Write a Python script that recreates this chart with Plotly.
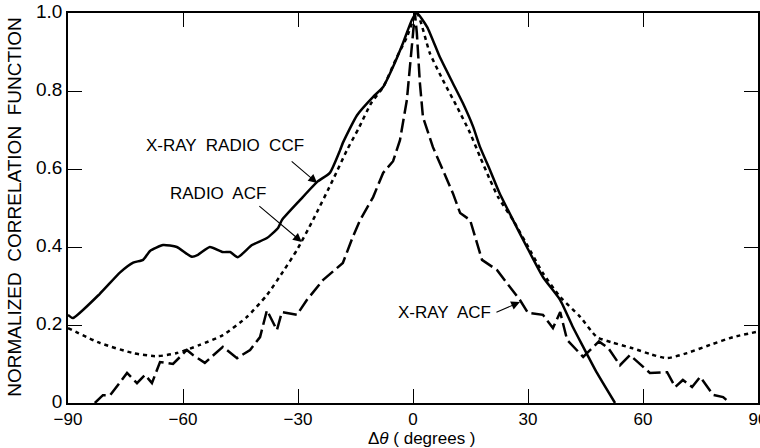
import plotly.graph_objects as go

# X-ray / radio cross-correlation function (solid)
ccf_x = [-90, -88.7, -81.7, -76.4, -73, -70.4, -68.6, -65.2, -61.6, -57.7, -56.1, -53, -49.6,
         -47.7, -45.7, -42, -38.1, -35.2, -34.2, -29.5, -25, -21.7, -19, -18.3, -14.6, -10.4,
         -7.8, -5.2, -2.6, -0.3, 1.0, 3.7, 7, 10.4, 13, 15.7, 17.5, 20.1, 22.5, 26.1, 29.7,
         33.9, 38.4, 41.7, 44.4, 48, 52.7]
ccf_y = [0.226, 0.218, 0.28, 0.335, 0.36, 0.367, 0.39, 0.405, 0.40, 0.375, 0.38, 0.40, 0.387,
         0.387, 0.374, 0.405, 0.423, 0.449, 0.469, 0.52, 0.567, 0.59, 0.649, 0.667, 0.738, 0.785,
         0.81, 0.862, 0.923, 0.982, 1.0, 0.964, 0.887, 0.82, 0.769, 0.708, 0.656, 0.597, 0.54,
         0.469, 0.40, 0.323, 0.264, 0.195, 0.144, 0.077, 0.0]

# Radio auto-correlation function (dotted)
racf_x = [-90, -81.7, -73, -66.8, -61.6, -55.6, -49.6, -43.3, -38.1, -33.9, -30.3, -26.1,
          -20.9, -17.2, -14.2, -10.9, -7.8, -4.2, -1.6, 1.0, 4.4, 7.8, 11.5, 14.9, 17.5, 20.1,
          22.2, 26.1, 30.5, 33.9, 38.4, 43.6, 48, 52, 57.4, 62, 66.3, 71.5, 77.5, 83.5, 90]
racf_y = [0.192, 0.154, 0.128, 0.12, 0.128, 0.149, 0.174, 0.221, 0.277, 0.337, 0.392, 0.469,
          0.572, 0.649, 0.704, 0.769, 0.81, 0.887, 0.938, 1.0, 0.897, 0.828, 0.759, 0.692, 0.631,
          0.572, 0.528, 0.469, 0.392, 0.333, 0.272, 0.221, 0.169, 0.155, 0.14, 0.125, 0.115,
          0.128, 0.149, 0.169, 0.183]

# X-ray auto-correlation function (dashed)
xacf_x = [-83, -80.9, -79, -74.6, -72, -69.9, -68.1, -66, -62.6, -59, -57.4, -54.3, -49.6,
          -45.9, -42.5, -39.9, -38.1, -35.5, -34.2, -30.3, -27.7, -23.5, -18.3, -15.7, -13.8,
          -10.4, -7.8, -5.2, -3.4, -1.6, -0.8, -0.3, 0.5, 1.0, 1.8, 2.6, 5.2, 7.8, 10.4, 12.3,
          14.9, 18, 21.9, 27.9, 30, 33.9, 36.5, 38.4, 40.2, 44.4, 48.5, 51, 54, 56.6, 61.8,
          66.3, 68.4, 70.4, 72.8, 74.9, 78.3, 80.9, 82.7]
xacf_y = [0.0, 0.02, 0.02, 0.077, 0.051, 0.072, 0.051, 0.105, 0.10, 0.136, 0.123, 0.103, 0.144,
          0.115, 0.136, 0.169, 0.238, 0.187, 0.233, 0.226, 0.264, 0.315, 0.359, 0.426, 0.469,
          0.528, 0.59, 0.62, 0.674, 0.777, 0.862, 0.923, 1.0, 0.949, 0.82, 0.733, 0.656, 0.597,
          0.538, 0.487, 0.469, 0.367, 0.341, 0.264, 0.231, 0.226, 0.192, 0.233, 0.162, 0.118,
          0.158, 0.14, 0.097, 0.123, 0.077, 0.079, 0.041, 0.059, 0.041, 0.067, 0.021, 0.015, 0.0]

x_ticks = [-90, -60, -30, 0, 30, 60, 90]
x_ticktext = ["\u221290", "\u221260", "\u221230", "0", "30", "60", "90"]
y_ticks = [0, 0.2, 0.4, 0.6, 0.8, 1.0]
y_ticktext = ["0", "0.2", "0.4", "0.6", "0.8", "1.0"]

FONT = "Liberation Sans, Arial, sans-serif"

fig = go.Figure()
fig.add_trace(go.Scatter(x=ccf_x, y=ccf_y, mode="lines", name="X-RAY RADIO CCF",
                         line=dict(color="black", width=2.5, shape="spline", smoothing=0.5)))
fig.add_trace(go.Scatter(x=racf_x, y=racf_y, mode="lines", name="RADIO ACF",
                         line=dict(color="black", width=2.5, dash="4px,4px", shape="spline", smoothing=0.6)))
fig.add_trace(go.Scatter(x=xacf_x, y=xacf_y, mode="lines", name="X-RAY ACF",
                         line=dict(color="black", width=2.5, dash="14px,5px")))

axis_common = dict(showline=True, linecolor="black", linewidth=1.5, mirror="allticks",
                   ticks="inside", ticklen=14, tickwidth=1.3, tickcolor="black",
                   showgrid=False, zeroline=False, ticklabeloverflow="allow", automargin=False)

fig.update_layout(
    width=760, height=448,
    margin=dict(l=68, r=2, t=13, b=45, autoexpand=False),
    paper_bgcolor="white", plot_bgcolor="white",
    showlegend=False,
    font=dict(family=FONT, color="black"),
    xaxis=dict(range=[-90, 90], tickvals=x_ticks, ticktext=x_ticktext,
               tickfont=dict(size=17), **axis_common),
    yaxis=dict(range=[0, 1], tickvals=y_ticks, ticktext=y_ticktext,
               tickfont=dict(size=19), ticklabelshift=-2, **axis_common),
)

ann_font = dict(family=FONT, size=17, color="black")
# text labels
fig.add_annotation(x=-49.0, y=0.659, text="X-RAY  RADIO  CCF", showarrow=False, font=ann_font)
fig.add_annotation(x=-50.9, y=0.538, text="RADIO  ACF", showarrow=False, font=ann_font)
fig.add_annotation(x=8.3, y=0.231, text="X-RAY  ACF", showarrow=False, font=ann_font)
# arrows
for hx, hy, ax, ay in [(-25.0, 0.564, -27, -23), (-29.0, 0.413, -44, -37), (27.9, 0.259, -25, 11)]:
    fig.add_annotation(x=hx, y=hy, ax=ax, ay=ay, text="", showarrow=True,
                       arrowhead=2, arrowsize=1.6, arrowwidth=1.1, arrowcolor="black")

# axis titles
fig.add_annotation(xref="paper", yref="paper", x=-0.0768, y=0.503,
                   text="NORMALIZED  CORRELATION  FUNCTION", textangle=-90, showarrow=False,
                   font=dict(family=FONT, size=19, color="black"), xanchor="center", yanchor="middle")
fig.add_annotation(xref="paper", yref="paper", x=0.513, y=-0.091,
                   text="\u0394<i>\u03b8</i> ( degrees )", showarrow=False,
                   font=dict(family=FONT, size=17, color="black"), xanchor="center", yanchor="middle")

fig.write_html("out.html")
